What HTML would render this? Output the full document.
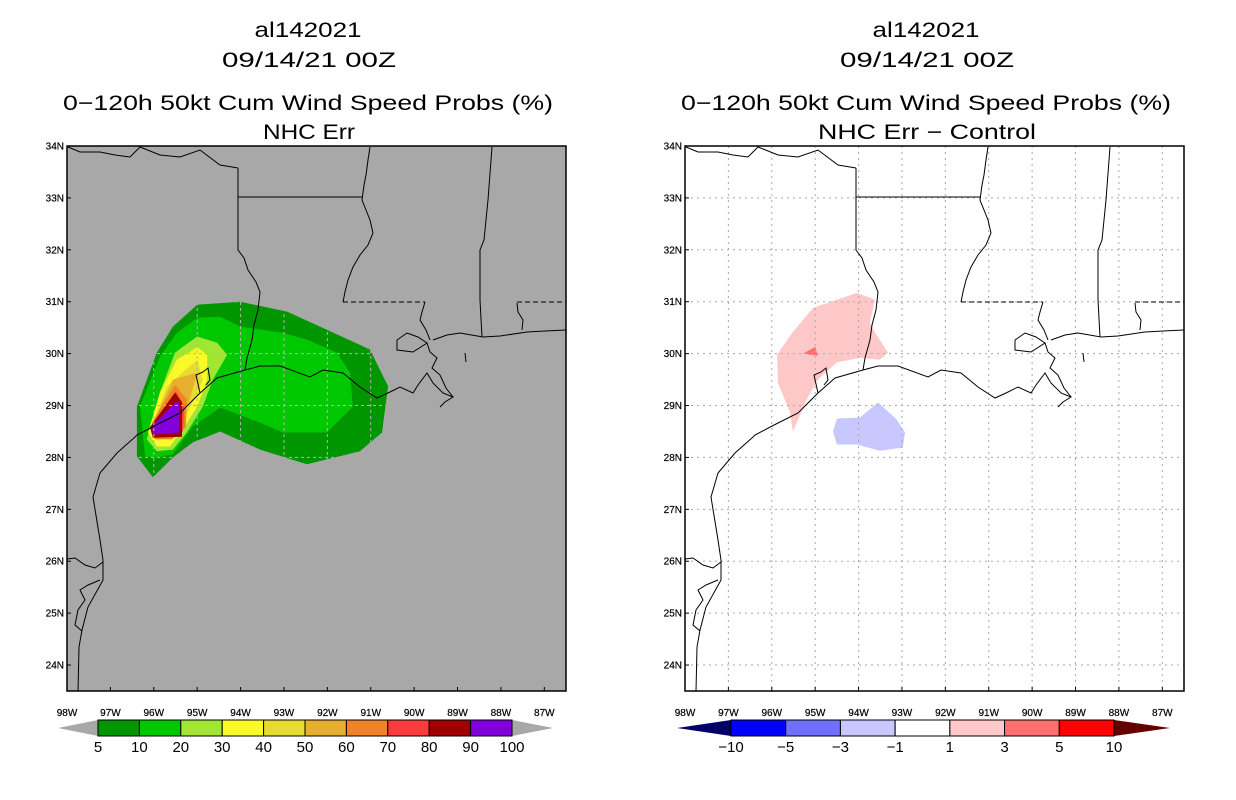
<!DOCTYPE html>
<html><head><meta charset="utf-8"><style>
html,body{margin:0;padding:0;background:#fff;}
svg{display:block;font-family:"Liberation Sans","DejaVu Sans",sans-serif;}
</style></head><body>
<svg id="root" width="1236" height="800" viewBox="0 0 1236 800" xmlns="http://www.w3.org/2000/svg">
<defs>
<clipPath id="clipL"><rect x="67" y="146" width="499" height="545"/></clipPath>
<clipPath id="clipR"><rect x="685" y="146" width="499" height="545"/></clipPath>
<clipPath id="clipOuter"><polygon id="outerClipPoly" points=""/></clipPath>
</defs>
<g font-size="21" text-anchor="middle" fill="#000">
<text x="308" y="37" textLength="107" lengthAdjust="spacingAndGlyphs">al142021</text>
<text x="309" y="67" textLength="174" lengthAdjust="spacingAndGlyphs">09/14/21 00Z</text>
<text x="308" y="110" textLength="490" lengthAdjust="spacingAndGlyphs">0−120h 50kt Cum Wind Speed Probs (%)</text>
<text x="309" y="139" textLength="92" lengthAdjust="spacingAndGlyphs">NHC Err</text>
</g>
<g font-size="21" text-anchor="middle" fill="#000">
<text x="926" y="37" textLength="107" lengthAdjust="spacingAndGlyphs">al142021</text>
<text x="927" y="67" textLength="174" lengthAdjust="spacingAndGlyphs">09/14/21 00Z</text>
<text x="926" y="110" textLength="490" lengthAdjust="spacingAndGlyphs">0−120h 50kt Cum Wind Speed Probs (%)</text>
<text x="927" y="139" textLength="218" lengthAdjust="spacingAndGlyphs">NHC Err − Control</text>
</g>
<g id="leftMap">
<rect x="67" y="146" width="499" height="545" fill="#a8a8a8"/>
<g id="leftFill" clip-path="url(#clipL)"></g>
<g id="leftGrid" clip-path="url(#clipOuter)"></g>
</g>
<g id="rightMap">
<rect x="685" y="146" width="499" height="545" fill="#fff"/>
<g id="rightFill" clip-path="url(#clipR)"></g>
<g id="rightGrid" clip-path="url(#clipR)"></g>
</g>
<g id="geo" clip-path="url(#clipL)" fill="none" stroke="#000" stroke-width="1">
<polyline points="78,691 79,647 82,630 88,607 103,580 103,560 100,540 93,497 100,473 117,453 135,437 137,435 160,423 180,413 200,393 217,378 245,370 260,366 280,366 310,377 323,370 343,373 360,387 377,398 388,393 400,387 413,393 418,385 427,373 433,383 443,393 453,397 445,402 440,407"/>
<polyline points="82,631 75,625 78,610 85,600 80,590 88,585 100,580"/>
<polyline points="200,393 196,375 203,372 208,368 210,380 206,385"/>
<polyline points="433,340 447,335 460,333 483,337 500,336 527,332 545,331 566,330"/>
<polyline points="397,340 407,333 418,337 427,343 413,352 397,350 397,340"/>
<polyline points="427,343 430,352 437,358 432,368 440,375 446,388 453,397"/>
<polyline points="68,147 80,152 100,152 115,155 130,157 140,147 160,155 180,157 200,150 220,165 238,168"/>
<polyline points="238,168 238,250 244,258 248,270 256,282 260,292 258,310 254,325 252,340 247,358 245,370"/>
<polyline points="238,197 362,197"/>
<polyline points="370,147 368,160 366,175 364,185 362,200 366,210 370,220 373,233 368,245 360,255 353,267 348,280 345,292 343,302"/>
<polyline stroke-dasharray="5,3" points="343,302 425,302"/>
<polyline points="425,302 422,312 420,320 426,330 430,340"/>
<polyline points="492,147 488,200 484,240 480,250 480,300 482,337"/>
<polyline stroke-dasharray="5,3" points="517,302 566,302"/>
<polyline points="517,303 518,312 523,320 522,330"/>
<polyline points="465,353 466,362"/>
<polyline points="67,559 75,558 85,565 95,568 103,562"/>
</g>
<use href="#geo" transform="translate(618,0)"/>
<rect x="67" y="146" width="499" height="545" fill="none" stroke="#000" stroke-width="1.5"/>
<rect x="685" y="146" width="499" height="545" fill="none" stroke="#000" stroke-width="1.5"/>
<g id="axes" font-size="10" fill="#000" stroke="#000" stroke-width="0.2"></g>
<g id="cbL"></g>
<g id="cbR"></g>
</svg>
<script>
const lonMin=-98, lonMax=-86.5, latMin=23.5, latMax=34;
const lonTicks=[-98,-97,-96,-95,-94,-93,-92,-91,-90,-89,-88,-87];
const latTicks=[34,33,32,31,30,29,28,27,26,25,24];
const probLevels=[5,10,20,30,40,50,60,70,80,90,100];
const probColors=["#009600","#00c800","#a0e632","#fafa28","#e6dc32","#e6af2d","#f08228","#fa3c3c","#a00000","#8200dc"];
const band5=[[-96.02,27.62],[-96.39,28.02],[-96.39,28.98],[-95.93,30.02],[-95.56,30.52],[-95.0,30.94],[-94.01,31.0],[-92.93,30.81],[-92.01,30.46],[-91.02,30.08],[-90.6,29.37],[-90.74,28.48],[-91.25,28.12],[-92.47,27.87],[-93.55,28.15],[-94.47,28.5],[-95.1,28.29],[-95.56,28.0]];
const band10=[[-96.2,28.02],[-96.32,28.98],[-95.86,29.94],[-95.47,30.4],[-95.0,30.69],[-94.47,30.71],[-94.01,30.52],[-93.02,30.4],[-92.47,30.27],[-91.78,30.02],[-91.48,29.63],[-91.41,28.98],[-92.01,28.48],[-93.02,28.48],[-93.55,28.67],[-94.47,28.96],[-95.1,28.6],[-95.56,28.06],[-95.93,28.0]];
const band20=[[-96.16,28.35],[-95.86,29.25],[-95.51,30.02],[-95.0,30.33],[-94.54,30.21],[-94.31,29.98],[-94.64,29.5],[-94.87,28.98],[-95.24,28.48],[-95.56,28.15],[-95.93,28.12]];
const band30=[[-96.13,28.48],[-95.86,29.25],[-95.47,29.88],[-95.0,30.12],[-94.77,29.98],[-94.77,29.5],[-95.0,28.98],[-95.33,28.54],[-95.63,28.21],[-95.93,28.21]];
const band40=[[-96.04,28.6],[-95.7,29.37],[-95.0,29.88],[-94.87,29.5],[-95.1,29.06],[-95.4,28.6],[-95.63,28.35],[-95.93,28.35]];
const band50=[[-96.02,28.67],[-95.56,29.5],[-95.0,29.63],[-95.17,29.12],[-95.44,28.67],[-95.7,28.4],[-95.93,28.4]];
const band60=[[-96.04,28.67],[-95.51,29.4],[-95.24,29.12],[-95.26,28.58],[-95.58,28.35],[-95.97,28.35]];
const band70=[[-96.02,28.63],[-95.49,29.27],[-95.3,28.98],[-95.33,28.5],[-95.63,28.4],[-95.95,28.4]];
const band80=[[-96.09,28.58],[-95.51,29.25],[-95.35,29.06],[-95.35,28.4],[-96.02,28.38]];
const band90=[[-96.04,28.6],[-95.51,29.06],[-95.42,29.06],[-95.42,28.48],[-96.02,28.44]];
const probBands=[band5,band10,band20,band30,band40,band50,band60,band70,band80,band90];
const diffLevels=[-10,-5,-3,-1,1,3,5,10];
const diffColors=["#000066","#0000ff","#7070ff","#c8c8ff","#ffffff","#ffc8c8","#ff7070","#ff0000","#640000"];
const diffPink=[[-95.88,29.98],[-95.53,30.4],[-95.05,30.88],[-94.04,31.17],[-93.62,31.04],[-93.74,30.6],[-93.62,30.4],[-93.32,30.02],[-93.51,29.88],[-93.97,29.92],[-94.5,29.83],[-94.94,29.5],[-95.19,29.12],[-95.51,28.5],[-95.58,28.87],[-95.86,29.44]];
const diffSalmon=[[-95.28,30.0],[-95.0,30.13],[-94.94,29.96]];
const diffBlue=[[-94.5,28.75],[-93.97,28.77],[-93.55,29.06],[-93.12,28.73],[-92.93,28.48],[-92.98,28.19],[-93.51,28.13],[-94.04,28.25],[-94.5,28.25],[-94.59,28.5]];

const NS="http://www.w3.org/2000/svg";
function mk(tag,attrs,parent){const e=document.createElementNS(NS,tag);for(const k in attrs)e.setAttribute(k,attrs[k]);parent.appendChild(e);return e;}
function xS(lon,x0){return x0+(lon-lonMin)/(lonMax-lonMin)*499;}
function yS(lat){return 146+(latMax-lat)/(latMax-latMin)*545;}
function pts(poly,x0){return poly.map(p=>xS(p[0],x0).toFixed(1)+","+yS(p[1]).toFixed(1)).join(" ");}

const lf=document.getElementById('leftFill');
probBands.forEach((b,i)=>{
  const p=mk('polygon',{points:pts(b,67),fill:probColors[i]},lf);
  
  
});
document.getElementById('outerClipPoly').setAttribute('points',pts(band5,67));
const rf=document.getElementById('rightFill');
[[diffPink,5],[diffSalmon,6],[diffBlue,3]].forEach(([b,ci],k)=>{
  const p=mk('polygon',{points:pts(b,685),fill:diffColors[ci]},rf);
  
  
});
function grid(g,x0,color,dash){
  lonTicks.forEach(l=>{if(l<=lonMin)return;const x=xS(l,x0);const e=mk('line',{x1:x,x2:x,y1:146,y2:691,stroke:color,'stroke-dasharray':dash,'stroke-width':1},g);
    
    });
  latTicks.forEach(l=>{if(l>=latMax)return;const y=yS(l);const e=mk('line',{x1:x0,x2:x0+499,y1:y,y2:y,stroke:color,'stroke-dasharray':dash,'stroke-width':1},g);
    
    });
}
grid(document.getElementById('leftGrid'),67,"#b4b4b4","3,3");
grid(document.getElementById('rightGrid'),685,"#a8a8a8","2,4");
const ax=document.getElementById('axes');
[67,685].forEach(x0=>{
  latTicks.forEach(l=>{const y=yS(l);
    const t=mk('text',{x:x0-3,y:y+3.5,'text-anchor':'end'},ax);t.textContent=l+"N";
    
    
    const tk=mk('line',{x1:x0,x2:x0+4,y1:y,y2:y,stroke:'#000','stroke-width':1},ax);
    
    });
  lonTicks.forEach(l=>{const x=xS(l,x0);
    const t=mk('text',{x:x,y:716,'text-anchor':'middle'},ax);t.textContent=(-l)+"W";
    
    
    const tk=mk('line',{x1:x,x2:x,y1:691,y2:687,stroke:'#000','stroke-width':1},ax);
    
    });
});
function colorbar(g,left,right,tipL,tipR,colors,labels,leftTipColor,rightTipColor){
  const n=colors.length,w=(right-left)/n,y0=720,y1=736,ym=728;
  const a=mk('polygon',{points:`${tipL},${ym} ${left},${y0} ${left},${y1}`,fill:leftTipColor},g);
  
  
  const b=mk('polygon',{points:`${tipR},${ym} ${right},${y0} ${right},${y1}`,fill:rightTipColor},g);
  
  
  colors.forEach((c,i)=>{const r=mk('rect',{x:left+i*w,y:y0,width:w,height:y1-y0,fill:c,stroke:'#000','stroke-width':1},g);
    
    });
  labels.forEach((v,i)=>{const t=mk('text',{x:left+i*w,y:752,'text-anchor':'middle','font-size':15},g);t.textContent=String(v).replace('-','−');
    
    });
}
colorbar(document.getElementById('cbL'),98,512,58,553,probColors,probLevels,"#a8a8a8","#a8a8a8");
colorbar(document.getElementById('cbR'),731,1114,677,1170,diffColors.slice(1,8),diffLevels,diffColors[0],diffColors[8]);
</script>
</body></html>
